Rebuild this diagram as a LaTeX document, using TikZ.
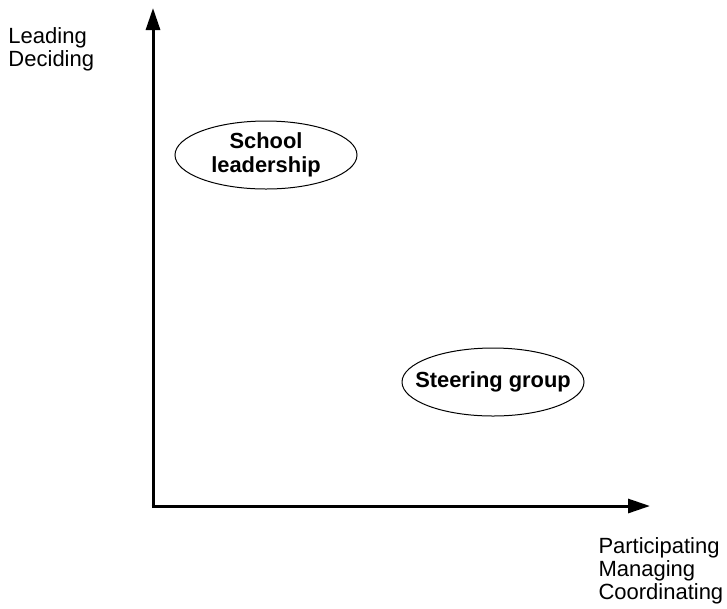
\documentclass[tikz,border=0pt]{standalone}
\usepackage{fontspec}
\setmainfont{Liberation Sans}
\usetikzlibrary{arrows.meta,shapes.geometric}

\tikzset{every picture/.style={line width=0.75pt}}
\tikzset{
  axisline/.style={line width=2.25pt, -{Triangle[length=16.5pt,width=10.5pt]}},
  groupoval/.style={ellipse, draw, line width=0.75pt, minimum width=136.5pt, minimum height=51pt, inner xsep=-11pt, inner ysep=0pt, align=center, font=\fontsize{16.4}{18}\selectfont\bfseries},
  axislabel/.style={anchor=north west, inner sep=0pt, align=left, font=\fontsize{16.5}{17.3}\selectfont}
}

\begin{document}
\begin{tikzpicture}[x=0.75pt,y=0.75pt,yscale=-1,xscale=1]
\useasboundingbox (0,0) rectangle (727,608);

%Axes
\coordinate (origin) at (153,506);
\coordinate (ytip) at (153,8);
\coordinate (xtip) at (650,506);
\draw [axisline] ([yshift=-1.1pt]origin) -- (ytip);
\draw [axisline] ([xshift=-1.1pt]origin) -- (xtip);

%Shape: Ellipse
\node [groupoval] (leadership) at (266,155) {School\\leadership};
%Shape: Ellipse
\node [groupoval] (steering) at (493,382) {Steering group};

% Text Node
\node [axislabel] (ylabel) at (8,27) {Leading\\Deciding};
% Text Node
\node [axislabel] (xlabel) at (598,537) {Participating\\Managing\\Coordinating};

\end{tikzpicture}
\end{document}
